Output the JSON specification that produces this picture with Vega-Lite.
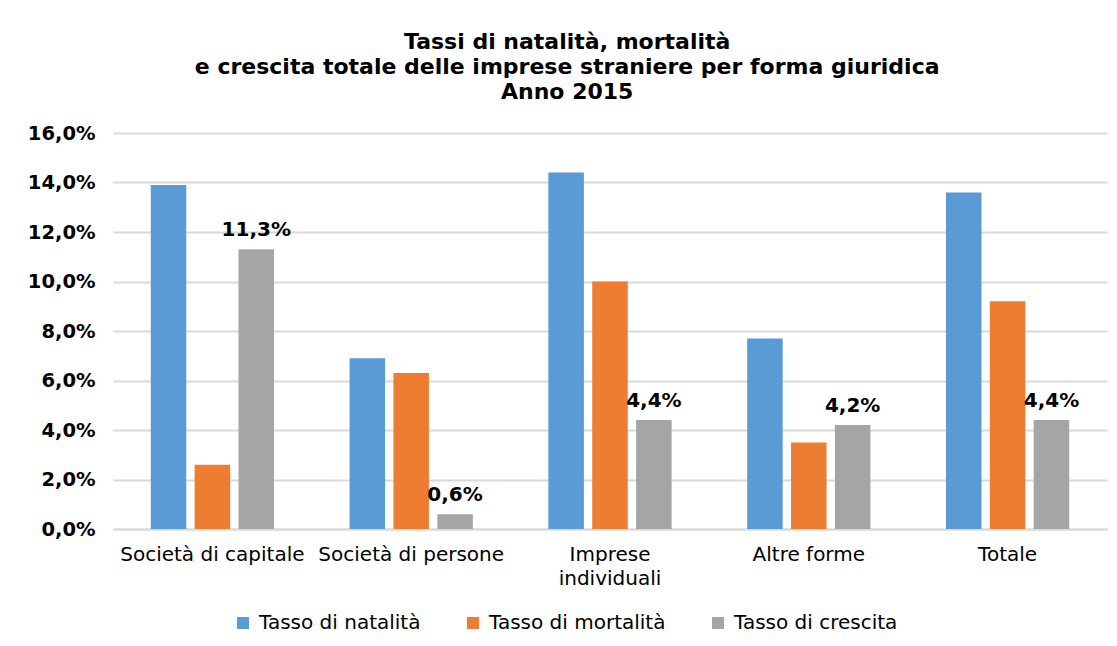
{
  "$schema": "https://vega.github.io/schema/vega-lite/v6.json",
  "autosize": {"type": "none"},
  "padding": {"left": 113, "top": 133, "right": 10, "bottom": 117},
  "width": 994,
  "height": 396,
  "background": "white",
  "title": {
    "text": ["Tassi di natalità, mortalità", "e crescita totale delle imprese straniere per forma giuridica", "Anno 2015"],
    "font": "DejaVu Sans",
    "fontSize": 22,
    "fontWeight": "bold",
    "color": "#000000",
    "lineHeight": 25,
    "anchor": "middle",
    "frame": "bounds",
    "offset": 19
  },
  "data": {
    "values": [
      {"forma": "Società di capitale", "serie": "Tasso di natalità", "valore": 0.139},
      {"forma": "Società di capitale", "serie": "Tasso di mortalità", "valore": 0.026},
      {"forma": "Società di capitale", "serie": "Tasso di crescita", "valore": 0.113},
      {"forma": "Società di persone", "serie": "Tasso di natalità", "valore": 0.069},
      {"forma": "Società di persone", "serie": "Tasso di mortalità", "valore": 0.063},
      {"forma": "Società di persone", "serie": "Tasso di crescita", "valore": 0.006},
      {"forma": "Imprese individuali", "serie": "Tasso di natalità", "valore": 0.144},
      {"forma": "Imprese individuali", "serie": "Tasso di mortalità", "valore": 0.100},
      {"forma": "Imprese individuali", "serie": "Tasso di crescita", "valore": 0.044},
      {"forma": "Altre forme", "serie": "Tasso di natalità", "valore": 0.077},
      {"forma": "Altre forme", "serie": "Tasso di mortalità", "valore": 0.035},
      {"forma": "Altre forme", "serie": "Tasso di crescita", "valore": 0.042},
      {"forma": "Totale", "serie": "Tasso di natalità", "valore": 0.136},
      {"forma": "Totale", "serie": "Tasso di mortalità", "valore": 0.092},
      {"forma": "Totale", "serie": "Tasso di crescita", "valore": 0.044}
    ]
  },
  "encoding": {
    "x": {
      "field": "forma",
      "type": "nominal",
      "sort": ["Società di capitale", "Società di persone", "Imprese individuali", "Altre forme", "Totale"],
      "scale": {"paddingInner": 0.38, "paddingOuter": 0.19},
      "axis": {
        "title": null,
        "labelAngle": 0,
        "labelFont": "DejaVu Sans",
        "labelFontSize": 20,
        "labelColor": "#000000",
        "labelPadding": 15,
        "labelOverlap": false,
        "labelLimit": 0,
        "labelBaseline": "top",
        "labelLineHeight": 24,
        "labelExpr": "datum.value == 'Imprese individuali' ? ['Imprese', 'individuali'] : datum.value",
        "ticks": false,
        "domainColor": "#d9d9d9",
        "domainWidth": 2,
        "grid": false
      }
    },
    "xOffset": {
      "field": "serie",
      "type": "nominal",
      "sort": ["Tasso di natalità", "Tasso di mortalità", "Tasso di crescita"],
      "scale": {"paddingInner": 0.19, "paddingOuter": 0}
    },
    "y": {
      "field": "valore",
      "type": "quantitative",
      "scale": {"domain": [0, 0.16], "nice": false},
      "axis": {
        "title": null,
        "values": [0, 0.02, 0.04, 0.06, 0.08, 0.1, 0.12, 0.14, 0.16],
        "format": ".1%",
        "labelFont": "DejaVu Sans",
        "labelFontSize": 19.5,
        "labelFontWeight": "bold",
        "labelColor": "#000000",
        "labelPadding": 18,
        "ticks": false,
        "domain": false,
        "gridColor": "#d9d9d9",
        "gridWidth": 2
      }
    }
  },
  "layer": [
    {
      "mark": {"type": "bar"},
      "encoding": {
        "color": {
          "field": "serie",
          "type": "nominal",
          "sort": ["Tasso di natalità", "Tasso di mortalità", "Tasso di crescita"],
          "scale": {"domain": ["Tasso di natalità", "Tasso di mortalità", "Tasso di crescita"], "range": ["#5b9bd5", "#ed7d31", "#a5a5a5"]},
          "legend": {
            "title": null,
            "orient": "none",
            "legendX": 120,
            "legendY": 480,
            "padding": 0,
            "direction": "horizontal",
            "symbolType": "square",
            "symbolSize": 144,
            "symbolStrokeWidth": 0,
            "labelFont": "DejaVu Sans",
            "labelFontSize": 20,
            "labelColor": "#000000",
            "labelLimit": 0,
            "labelOffset": 6,
            "columnPadding": 42
          }
        }
      }
    },
    {
      "transform": [{"filter": "datum.serie == 'Tasso di crescita'"}],
      "mark": {"type": "text", "font": "DejaVu Sans", "fontSize": 20, "fontWeight": "bold", "color": "#000000", "dy": -13, "baseline": "alphabetic"},
      "encoding": {
        "text": {"field": "valore", "type": "quantitative", "format": ".1%"}
      }
    }
  ],
  "config": {
    "locale": {"number": {"decimal": ",", "thousands": ".", "grouping": [3], "currency": ["€", ""]}},
    "view": {"stroke": null}
  }
}
